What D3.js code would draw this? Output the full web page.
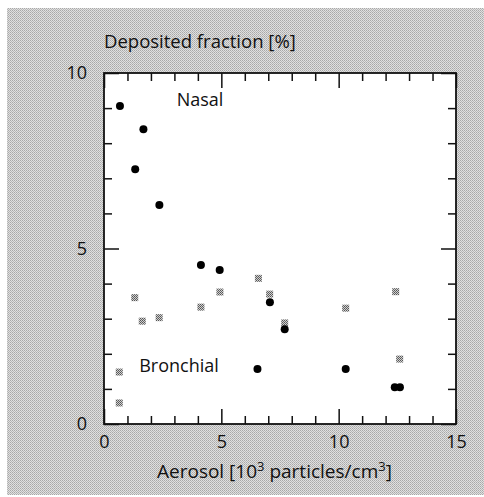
<!DOCTYPE html>
<html>
<head>
<meta charset="utf-8">
<script src="https://cdn.jsdelivr.net/npm/d3@7"></script>
<style>
  body { margin: 0; background: #fff; }
  text { font-family: "Open Sans", sans-serif; fill: #111; }
</style>
</head>
<body>
<script>
// nasal deposition (black dots)
const nasalX = [0.68, 1.68, 1.33, 2.36, 4.13, 4.93, 7.07, 7.7, 6.54, 10.3, 12.39, 12.61];
const nasalY = [9.06, 8.4, 7.26, 6.24, 4.53, 4.39, 3.47, 2.7, 1.57, 1.57, 1.05, 1.05];

// bronchial deposition (grey squares)
const bronchX = [0.65, 0.65, 1.31, 1.63, 2.35, 4.13, 4.94, 6.58, 7.06, 7.7, 10.3, 12.43, 12.6];
const bronchY = [1.48, 0.6, 3.6, 2.93, 3.03, 3.33, 3.76, 4.15, 3.7, 2.88, 3.3, 3.77, 1.85];

// tick labels
const xTicks = [0, 5, 10, 15];
const yTicks = [0, 5, 10];
const xMinor = d3.range(0, 16);
const yMinor = d3.range(0, 11);

const W = 484, H = 497;
const plot = { left: 104, right: 456, top: 73, bottom: 424 };

const xScale = d3.scaleLinear().domain([0, 15]).range([plot.left, plot.right]);
const yScale = d3.scaleLinear().domain([0, 10]).range([plot.bottom, plot.top]);

const svg = d3.select("body").append("svg")
  .attr("width", W)
  .attr("height", H);

// halftone looking patterns
const defs = svg.append("defs");
const bg = defs.append("pattern")
  .attr("id", "halftone")
  .attr("width", 2).attr("height", 2)
  .attr("patternUnits", "userSpaceOnUse");
bg.append("rect").attr("width", 2).attr("height", 2).attr("fill", "#e0e0e0");
bg.append("rect").attr("width", 1).attr("height", 1).attr("fill", "#a8a8a8");
bg.append("rect").attr("x", 1).attr("y", 1).attr("width", 1).attr("height", 1).attr("fill", "#b8b8b8");

const mk = defs.append("pattern")
  .attr("id", "dots")
  .attr("width", 2).attr("height", 2)
  .attr("patternUnits", "userSpaceOnUse");
mk.append("rect").attr("width", 2).attr("height", 2).attr("fill", "#d0d0d0");
mk.append("rect").attr("width", 1).attr("height", 1).attr("fill", "#555");
mk.append("rect").attr("x", 1).attr("y", 1).attr("width", 1).attr("height", 1).attr("fill", "#666");

svg.append("rect")
  .attr("x", 7).attr("y", 8)
  .attr("width", W - 7).attr("height", 487)
  .attr("fill", "url(#halftone)");

svg.append("rect")
  .attr("x", plot.left).attr("y", plot.top)
  .attr("width", plot.right - plot.left)
  .attr("height", plot.bottom - plot.top)
  .attr("fill", "#fff");

// inward ticks on all four sides
function ticks(axis, transform, values, size) {
  svg.append("g")
    .attr("transform", transform)
    .call(axis.tickValues(values).tickSize(size).tickFormat(""))
    .call(g => g.select(".domain").remove())
    .call(g => g.selectAll("line").attr("stroke", "#111").attr("stroke-width", 1.5));
}
const xMin = xMinor.filter(d => d % 5 !== 0);
const yMin = yMinor.filter(d => d % 5 !== 0);
ticks(d3.axisBottom(xScale), `translate(0,${plot.bottom})`, xMin, -8);
ticks(d3.axisBottom(xScale), `translate(0,${plot.bottom})`, xTicks, -15);
ticks(d3.axisTop(xScale), `translate(0,${plot.top})`, xMin, -8);
ticks(d3.axisTop(xScale), `translate(0,${plot.top})`, xTicks, -15);
ticks(d3.axisLeft(yScale), `translate(${plot.left},0)`, yMin, -8);
ticks(d3.axisLeft(yScale), `translate(${plot.left},0)`, yTicks, -15);
ticks(d3.axisRight(yScale), `translate(${plot.right},0)`, yMin, -8);
ticks(d3.axisRight(yScale), `translate(${plot.right},0)`, yTicks, -15);

// frame
svg.append("rect")
  .attr("x", plot.left).attr("y", plot.top)
  .attr("width", plot.right - plot.left)
  .attr("height", plot.bottom - plot.top)
  .attr("fill", "none")
  .attr("stroke", "#111")
  .attr("stroke-width", 1.8);

// tick labels
svg.append("g")
  .attr("transform", `translate(0,${plot.bottom})`)
  .call(d3.axisBottom(xScale).tickValues(xTicks).tickSize(0).tickPadding(11))
  .call(g => g.select(".domain").remove())
  .call(g => g.selectAll("text").style("font-size", "18px").attr("fill", "#111"));

svg.append("g")
  .attr("transform", `translate(${plot.left},0)`)
  .call(d3.axisLeft(yScale).tickValues(yTicks).tickSize(0).tickPadding(17))
  .call(g => g.select(".domain").remove())
  .call(g => g.selectAll("text").style("font-size", "18px").attr("fill", "#111"));

// axis titles
svg.append("text")
  .attr("x", plot.left).attr("y", 48)
  .style("font-size", "18.5px")
  .text("Deposited fraction [%]");

const xt = svg.append("text")
  .attr("x", 157).attr("y", 478)
  .style("font-size", "19px");
xt.append("tspan").text("Aerosol [10");
xt.append("tspan").attr("dy", -7).style("font-size", "13px").text("3");
xt.append("tspan").attr("dy", 7).text(" particles/cm");
xt.append("tspan").attr("dy", -7).style("font-size", "13px").text("3");
xt.append("tspan").attr("dy", 7).text("]");

// series labels
svg.append("text")
  .attr("x", xScale(3.1)).attr("y", yScale(9.05))
  .style("font-size", "18px")
  .text("Nasal");
svg.append("text")
  .attr("x", xScale(1.5)).attr("y", yScale(1.48))
  .style("font-size", "18px")
  .text("Bronchial");

// bronchial markers
svg.append("g").selectAll("rect")
  .data(bronchX.map((x, i) => ({ x, y: bronchY[i] })))
  .enter().append("rect")
  .attr("x", d => xScale(d.x) - 3.5)
  .attr("y", d => yScale(d.y) - 3.5)
  .attr("width", 7).attr("height", 7)
  .attr("fill", "url(#dots)");

// nasal markers
svg.append("g").selectAll("circle")
  .data(nasalX.map((x, i) => ({ x, y: nasalY[i] })))
  .enter().append("circle")
  .attr("cx", d => xScale(d.x))
  .attr("cy", d => yScale(d.y))
  .attr("r", 4)
  .attr("fill", "#000");
</script>
</body>
</html>
